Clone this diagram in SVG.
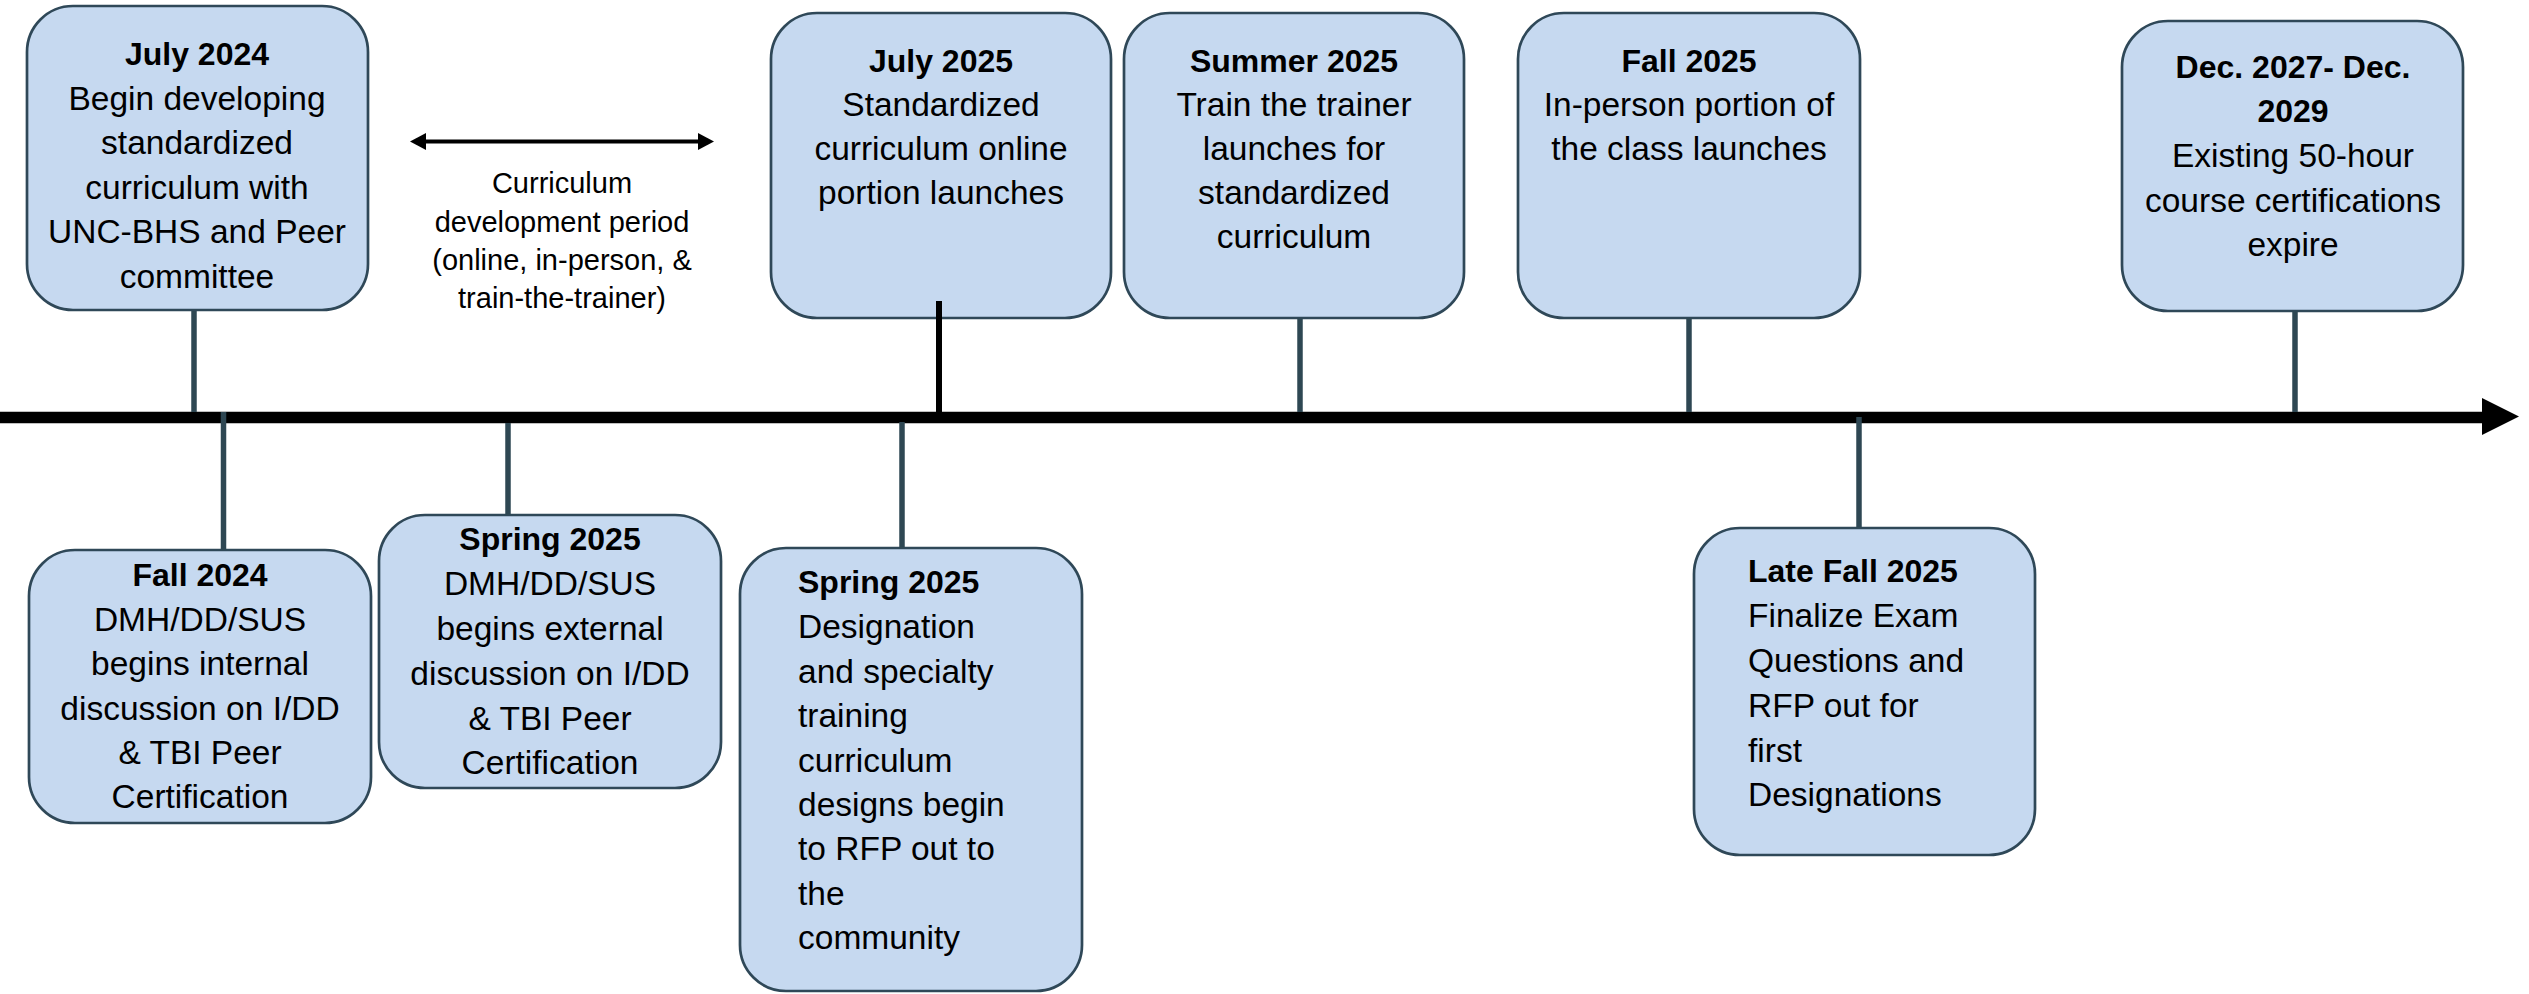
<svg xmlns="http://www.w3.org/2000/svg" width="2529" height="994" viewBox="0 0 2529 994">
<style>
.box{fill:#C6D9F0;stroke:#2F4858;stroke-width:2.7}
.t{font-family:"Liberation Sans",Arial,sans-serif;font-size:33.5px;fill:#000}
.c{text-anchor:middle}
.b{font-weight:bold;font-size:32px}
.stem{stroke:#2E4753;stroke-width:5.5;fill:none}
.lbl{font-family:"Liberation Sans",Arial,sans-serif;font-size:29px;fill:#000;text-anchor:middle}
</style>
<rect width="2529" height="994" fill="#fff"/>
<g id="node-july2024">
<rect class="box" x="27" y="6" width="341" height="304" rx="46"/>
<text class="t c" x="197"><tspan class="b" x="197" y="65">July 2024</tspan><tspan x="197" y="109.5">Begin developing</tspan><tspan x="197" y="154">standardized</tspan><tspan x="197" y="198.5">curriculum with</tspan><tspan x="197" y="243">UNC-BHS and Peer</tspan><tspan x="197" y="287.5">committee</tspan></text>
</g>
<g id="node-fall2024">
<rect class="box" x="29" y="550" width="342" height="273" rx="46"/>
<text class="t c" x="200"><tspan class="b" x="200" y="586">Fall 2024</tspan><tspan x="200" y="631">DMH/DD/SUS</tspan><tspan x="200" y="675">begins internal</tspan><tspan x="200" y="720">discussion on I/DD</tspan><tspan x="200" y="764">&amp; TBI Peer</tspan><tspan x="200" y="808">Certification</tspan></text>
</g>
<g id="node-spring2025a">
<rect class="box" x="379" y="515" width="342" height="273" rx="46"/>
<text class="t c" x="550"><tspan class="b" x="550" y="550">Spring 2025</tspan><tspan x="550" y="595">DMH/DD/SUS</tspan><tspan x="550" y="640">begins external</tspan><tspan x="550" y="685">discussion on I/DD</tspan><tspan x="550" y="730">&amp; TBI Peer</tspan><tspan x="550" y="774">Certification</tspan></text>
</g>
<g id="node-july2025">
<rect class="box" x="771" y="13" width="340" height="305" rx="46"/>
<text class="t c" x="941"><tspan class="b" x="941" y="72">July 2025</tspan><tspan x="941" y="116">Standardized</tspan><tspan x="941" y="160">curriculum online</tspan><tspan x="941" y="204">portion launches</tspan></text>
</g>
<g id="node-spring2025b">
<rect class="box" x="740" y="548" width="342" height="443" rx="46"/>
<text class="t" x="798"><tspan class="b" x="798" y="593">Spring 2025</tspan><tspan x="798" y="638">Designation</tspan><tspan x="798" y="683">and specialty</tspan><tspan x="798" y="727">training</tspan><tspan x="798" y="772">curriculum</tspan><tspan x="798" y="816">designs begin</tspan><tspan x="798" y="860">to RFP out to</tspan><tspan x="798" y="905">the</tspan><tspan x="798" y="949">community</tspan></text>
</g>
<g id="node-summer2025">
<rect class="box" x="1124" y="13" width="340" height="305" rx="46"/>
<text class="t c" x="1294"><tspan class="b" x="1294" y="72">Summer 2025</tspan><tspan x="1294" y="116">Train the trainer</tspan><tspan x="1294" y="160">launches for</tspan><tspan x="1294" y="204">standardized</tspan><tspan x="1294" y="248">curriculum</tspan></text>
</g>
<g id="node-fall2025">
<rect class="box" x="1518" y="13" width="342" height="305" rx="46"/>
<text class="t c" x="1689"><tspan class="b" x="1689" y="72">Fall 2025</tspan><tspan x="1689" y="116">In-person portion of</tspan><tspan x="1689" y="160">the class launches</tspan></text>
</g>
<g id="node-latefall2025">
<rect class="box" x="1694" y="528" width="341" height="327" rx="46"/>
<text class="t" x="1748"><tspan class="b" x="1748" y="582">Late Fall 2025</tspan><tspan x="1748" y="627">Finalize Exam</tspan><tspan x="1748" y="672">Questions and</tspan><tspan x="1748" y="717">RFP out for</tspan><tspan x="1748" y="762">first</tspan><tspan x="1748" y="806">Designations</tspan></text>
</g>
<g id="node-dec2027">
<rect class="box" x="2122" y="21" width="341" height="290" rx="46"/>
<text class="t c" x="2293"><tspan class="b" x="2293" y="78">Dec. 2027- Dec.</tspan><tspan class="b" x="2293" y="122">2029</tspan><tspan x="2293" y="167">Existing 50-hour</tspan><tspan x="2293" y="212">course certifications</tspan><tspan x="2293" y="256">expire</tspan></text>
</g>
<g id="period-label">
<text class="lbl"><tspan x="562" y="193">Curriculum</tspan><tspan x="562" y="232">development period</tspan><tspan x="562" y="270">(online, in-person, &amp;</tspan><tspan x="562" y="308">train-the-trainer)</tspan></text>
</g>
<g id="connectors">
<line x1="424" y1="141.5" x2="700" y2="141.5" stroke="#000" stroke-width="4"/>
<polygon points="410,141.5 426,133 426,150" fill="#000"/>
<polygon points="714,141.5 698,133 698,150" fill="#000"/>
<line x1="0" y1="417.5" x2="2484" y2="417.5" stroke="#000" stroke-width="11.5"/>
<polygon points="2482,398 2519,416.5 2482,435" fill="#000"/>
<line class="stem" x1="194" y1="311" x2="194" y2="412"/>
<line class="stem" x1="223.5" y1="412" x2="223.5" y2="550"/>
<line class="stem" x1="508" y1="423" x2="508" y2="515"/>
<line x1="939" y1="301" x2="939" y2="412" stroke="#000" stroke-width="6"/>
<line class="stem" x1="902" y1="422" x2="902" y2="548"/>
<line class="stem" x1="1300" y1="318" x2="1300" y2="412"/>
<line class="stem" x1="1689" y1="318" x2="1689" y2="412"/>
<line class="stem" x1="1859" y1="417" x2="1859" y2="528"/>
<line class="stem" x1="2295" y1="311" x2="2295" y2="412"/>
</g>
</svg>
